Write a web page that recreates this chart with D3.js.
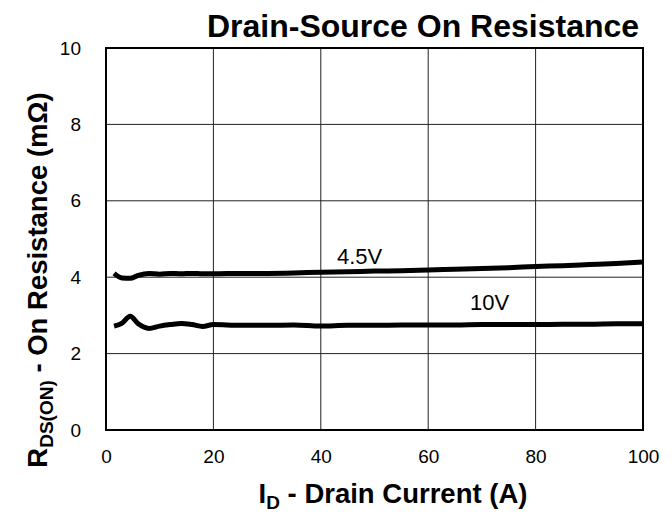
<!DOCTYPE html>
<html>
<head>
<meta charset="utf-8">
<script src="https://cdn.jsdelivr.net/npm/d3@7"></script>
<style>
  body { margin: 0; background: #fff; }
  svg { font-family: Arial, "Liberation Sans", sans-serif; }
</style>
</head>
<body>
<svg id="chart"></svg>
<script>
// Drain current (A)
const current = [1.5, 3, 4.5, 6, 8, 10, 12, 14, 16, 18, 20, 25, 30, 35, 40, 45, 50, 55, 60, 65, 70, 75, 80, 85, 90, 95, 100];
// On resistance (mOhm) at each gate voltage
const r45 = [4.10, 3.98, 3.97, 4.05, 4.10, 4.08, 4.10, 4.09, 4.10, 4.09, 4.09, 4.10, 4.10, 4.11, 4.13, 4.14, 4.16, 4.17, 4.19, 4.21, 4.23, 4.25, 4.28, 4.30, 4.33, 4.36, 4.40];
const r10 = [2.72, 2.80, 2.98, 2.78, 2.66, 2.72, 2.76, 2.79, 2.76, 2.71, 2.76, 2.74, 2.74, 2.75, 2.72, 2.74, 2.74, 2.75, 2.75, 2.75, 2.76, 2.76, 2.76, 2.77, 2.77, 2.78, 2.78];
const xTicks = [0, 20, 40, 60, 80, 100];
const yTicks = [0, 2, 4, 6, 8, 10];

const width = 672, height = 514;
const margin = { left: 106, right: 29, top: 48, bottom: 84 };

const svg = d3.select('#chart').attr('width', width).attr('height', height);

const x = d3.scaleLinear().domain([0, 100]).range([margin.left, width - margin.right]);
const y = d3.scaleLinear().domain([0, 10]).range([height - margin.bottom, margin.top]);

// Grid
const grid = svg.append('g');
xTicks.forEach(t => {
    grid.append('line')
        .attr('x1', x(t)).attr('x2', x(t))
        .attr('y1', y(0)).attr('y2', y(10))
        .attr('stroke', '#222').attr('stroke-width', 1);
});
yTicks.forEach(t => {
    grid.append('line')
        .attr('x1', x(0)).attr('x2', x(100))
        .attr('y1', y(t)).attr('y2', y(t))
        .attr('stroke', '#222').attr('stroke-width', 1);
});

// Frame
svg.append('rect')
    .attr('x', x(0)).attr('y', y(10))
    .attr('width', x(100) - x(0)).attr('height', y(0) - y(10))
    .attr('fill', 'none').attr('stroke', '#000').attr('stroke-width', 2);

// Axes (labels only)
const xAxis = svg.append('g')
    .attr('transform', `translate(0,${y(0)})`)
    .call(d3.axisBottom(x).tickValues(xTicks).tickSize(0).tickPadding(20));
const yAxis = svg.append('g')
    .attr('transform', `translate(${x(0)},0)`)
    .call(d3.axisLeft(y).tickValues(yTicks).tickSize(0).tickPadding(25));
[xAxis, yAxis].forEach(a => {
    a.select('.domain').remove();
    a.selectAll('text').attr('font-size', '19px').attr('fill', '#000')
        .attr('font-family', 'Arial, "Liberation Sans", sans-serif');
});

// Curves
const line = d3.line().x(d => x(d[0])).y(d => y(d[1])).curve(d3.curveMonotoneX);
[r45, r10].forEach(series => {
    svg.append('path')
        .datum(current.map((c, i) => [c, series[i]]))
        .attr('d', line)
        .attr('fill', 'none')
        .attr('stroke', '#000')
        .attr('stroke-width', 5)
        .attr('stroke-linejoin', 'round');
});

// Curve labels
svg.append('text').attr('x', x(43)).attr('y', y(4.35)).attr('font-size', '22px').text('4.5V');
svg.append('text').attr('x', x(67.8)).attr('y', y(3.14)).attr('font-size', '22px').text('10V');

// Title
svg.append('text')
    .attr('x', 423).attr('y', 37)
    .attr('text-anchor', 'middle')
    .attr('font-size', '32px').attr('font-weight', 'bold')
    .text('Drain-Source On Resistance');

// X axis title
const xt = svg.append('text')
    .attr('x', 393).attr('y', 503)
    .attr('text-anchor', 'middle')
    .attr('font-size', '27.5px').attr('font-weight', 'bold');
xt.append('tspan').text('I');
xt.append('tspan').attr('font-size', '19px').attr('dy', 6).text('D');
xt.append('tspan').attr('dy', -6).text(' - Drain Current (A)');

// Y axis title
const yt = svg.append('text')
    .attr('transform', 'translate(47,280) rotate(-90)')
    .attr('text-anchor', 'middle')
    .attr('font-size', '27.5px').attr('font-weight', 'bold');
yt.append('tspan').text('R');
yt.append('tspan').attr('font-size', '19px').attr('dy', 6).text('DS(ON)');
yt.append('tspan').attr('dy', -6).text(' - On Resistance (mΩ)');
</script>
</body>
</html>
